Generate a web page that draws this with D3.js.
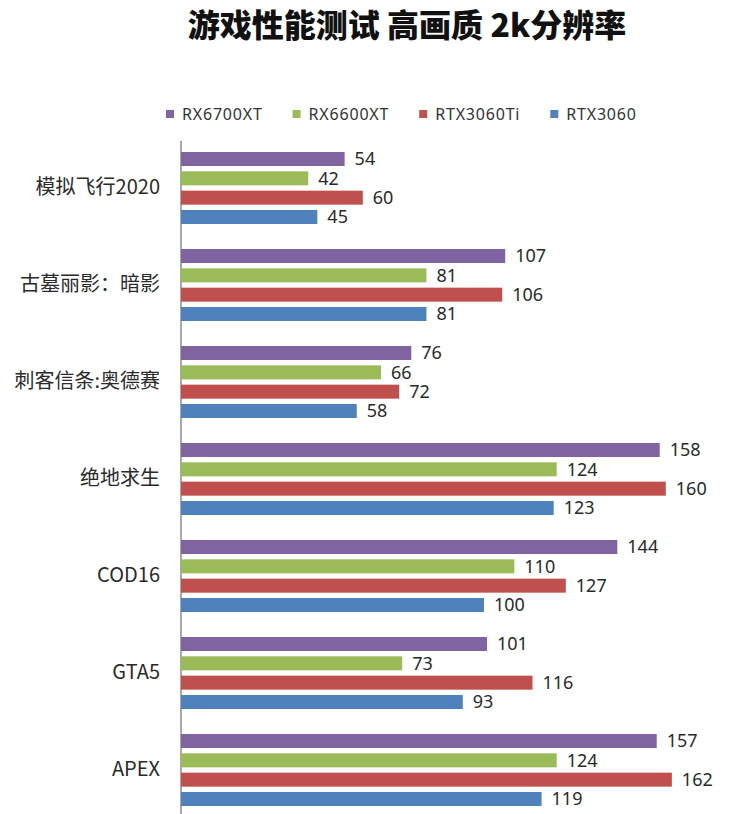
<!DOCTYPE html>
<html>
<head>
<meta charset="utf-8">
<script src="https://cdn.jsdelivr.net/npm/d3@7"></script>
<style>
  body { margin: 0; background: #fff; }
  svg { display: block; }
</style>
</head>
<body>
<svg id="chart" width="735" height="814"></svg>

<script>
// data
const games = ["模拟飞行2020", "古墓丽影：暗影", "刺客信条:奥德赛", "绝地求生", "COD16", "GTA5", "APEX"];
const cards = ["RX6700XT", "RX6600XT", "RTX3060Ti", "RTX3060"];
const rx6700xt = [54, 107, 76, 158, 144, 101, 157];
const rx6600xt = [42, 81, 66, 124, 110, 73, 124];
const rtx3060ti = [60, 106, 72, 160, 127, 116, 162];
const rtx3060 = [45, 81, 58, 123, 100, 93, 119];
const colors = ["#8064A2", "#9BBB59", "#C0504D", "#4F81BD"];

const seriesValues = [rx6700xt, rx6600xt, rtx3060ti, rtx3060];

const svg = d3.select("#chart");

// title
svg.append("text")
  .attr("x", 407)
  .attr("y", 37)
  .attr("text-anchor", "middle")
  .attr("font-family", "'Noto Sans CJK SC'")
  .attr("font-weight", 900)
  .attr("font-size", "32px")
  .attr("fill", "#111")
  .text("游戏性能测试 高画质 2k分辨率");

// scales
const x0 = 181;
const xScale = d3.scaleLinear()
  .domain([0, 180])
  .range([x0, x0 + 180 * 3.03]);

const yScale = d3.scaleBand()
  .domain(games)
  .range([139.5, 139.5 + 97 * games.length]);

const yInner = d3.scaleBand()
  .domain(cards)
  .range([12.5, 84.5])
  .paddingInner(0.275);

// y axis (category labels, no ticks)
const yAxis = svg.append("g")
  .attr("transform", "translate(" + x0 + ",0)")
  .call(d3.axisLeft(yScale).tickSize(0).tickPadding(21));

yAxis.select(".domain")
  .attr("stroke", "#8c8c8c")
  .attr("stroke-width", 1.5)
  .attr("d", "M0,141V814");

yAxis.selectAll("text")
  .attr("font-family", "'Noto Sans CJK SC'")
  .attr("font-size", "20px")
  .attr("fill", "#2a2a2a");

// bars
const groups = svg.append("g")
  .selectAll("g")
  .data(games)
  .enter().append("g")
  .attr("transform", function(d) { return "translate(0," + yScale(d) + ")"; });

groups.selectAll("rect")
  .data(function(d, i) {
    return cards.map(function(c, j) { return { card: c, value: seriesValues[j][i], k: j }; });
  })
  .enter().append("rect")
  .attr("x", xScale(0))
  .attr("y", function(d) { return yInner(d.card); })
  .attr("width", function(d) { return xScale(d.value) - xScale(0); })
  .attr("height", yInner.bandwidth())
  .attr("fill", function(d) { return colors[d.k]; });

// value labels
groups.selectAll(".val")
  .data(function(d, i) {
    return cards.map(function(c, j) { return { card: c, value: seriesValues[j][i] }; });
  })
  .enter().append("text")
  .attr("class", "val")
  .attr("x", function(d) { return xScale(d.value) + 10; })
  .attr("y", function(d) { return yInner(d.card) + yInner.bandwidth() / 2; })
  .attr("dy", "0.36em")
  .attr("font-family", "'Noto Sans'")
  .attr("font-size", "18px")
  .attr("fill", "#2a2a2a")
  .text(function(d) { return d.value; });

// legend
const legend = svg.append("g").attr("transform", "translate(166,114)");
let lx = 0;
cards.forEach(function(c, i) {
  legend.append("rect")
    .attr("x", lx)
    .attr("y", -4)
    .attr("width", 8)
    .attr("height", 8)
    .attr("fill", colors[i]);
  const t = legend.append("text")
    .attr("x", lx + 16)
    .attr("y", 0)
    .attr("dy", "0.36em")
    .attr("font-family", "'Noto Sans'")
    .attr("font-size", "16px")
    .attr("letter-spacing", "0.8px")
    .attr("fill", "#333")
    .text(c);
  lx += 16 + t.node().getComputedTextLength() + 30;
});
</script>
</body>
</html>
